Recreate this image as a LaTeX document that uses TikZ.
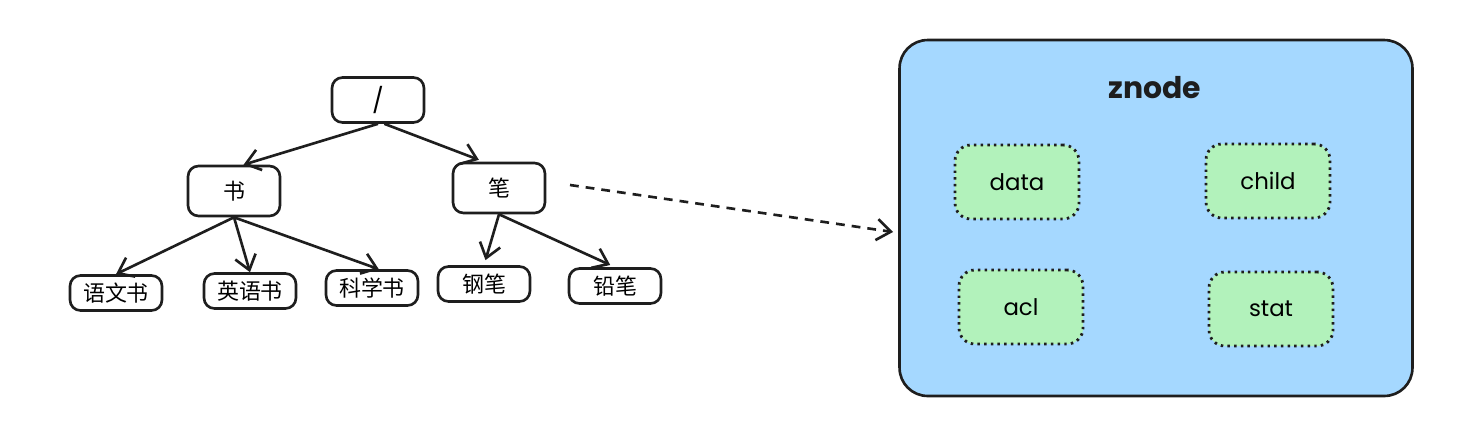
\documentclass[tikz,border=0pt]{standalone}
\usepackage{fontspec}
\setmainfont{Noto Sans CJK SC}
\newfontfamily\hand{Poppins}
\usetikzlibrary{arrows.meta}
\definecolor{znblue}{HTML}{A5D8FF}
\definecolor{fieldgreen}{HTML}{B2F2BB}
\definecolor{ink}{HTML}{1E1E1E}
\tikzset{
    treebox/.style={draw=ink,line width=1.5pt,rounded corners=6pt,fill=white,inner sep=0pt,
        minimum width=1.84cm,minimum height=1cm,font=\fontsize{12.5}{13}\selectfont},
    leafbox/.style={treebox,minimum height=0.7cm},
    arr/.style={draw=ink,line width=1.5pt,-{Straight Barb[length=8pt,width=12pt]}},
    container/.style={draw=ink,line width=1.5pt,rounded corners=16pt,fill=znblue,
        minimum width=10.26cm,minimum height=7.12cm},
    field/.style={draw=ink,line width=1.6pt,dash pattern=on 1.4pt off 2.4pt,rounded corners=9pt,
        fill=fieldgreen,minimum width=2.48cm,minimum height=1.48cm,
        font=\hand\fontsize{13}{15}\selectfont}
}
\begin{document}
\begin{tikzpicture}[x=0.02cm,y=-0.02cm]
    \useasboundingbox (0,0) rectangle (1466,424);
    % tree
    \node[treebox,minimum height=0.9cm] (root) at (378,100) {\hand\fontsize{14}{15}\selectfont /};
    \node[treebox] (book) at (234,191) {书};
    \node[treebox] (pen) at (499,188) {笔};
    \foreach \name/\x/\y/\txt in {yuwen/116/293/语文书,yingyu/250/291/英语书,kexue/372/288/科学书,
            gangbi/484/284/钢笔,qianbi/615/286/铅笔}
        {\node[leafbox] (\name) at (\x,\y) {\txt};
        }
    \draw[arr] (root.south) -- (book.70);
    \draw[arr,shorten >=3pt] (root.-75) -- (pen.120);
    \draw[arr] (book.south) -- (yuwen.north);
    \draw[arr] (book.south) -- (yingyu.north);
    \draw[arr] (book.south) -- (kexue.70);
    \draw[arr,shorten >=3pt] (pen.south) -- (gangbi.north);
    \draw[arr,shorten >=3pt] (pen.south) -- (qianbi.north);
    % znode
    \node[container] (zn) at (1156,218) {};
    \node[font=\hand\fontsize{17}{19}\selectfont\bfseries,text=ink] (title) at (1155,88) {znode};
    \node[field] (data) at (1017,182) {data};
    \node[field] (child) at (1268,181) {child};
    \node[field] (acl) at (1021,307) {acl};
    \node[field] (stat) at (1271,309) {stat};
    \coordinate (from) at (570,185);
    \coordinate (into) at (893,232);
    \draw[arr,dash pattern=on 5pt off 4pt] (from) -- (into);
\end{tikzpicture}
\end{document}
